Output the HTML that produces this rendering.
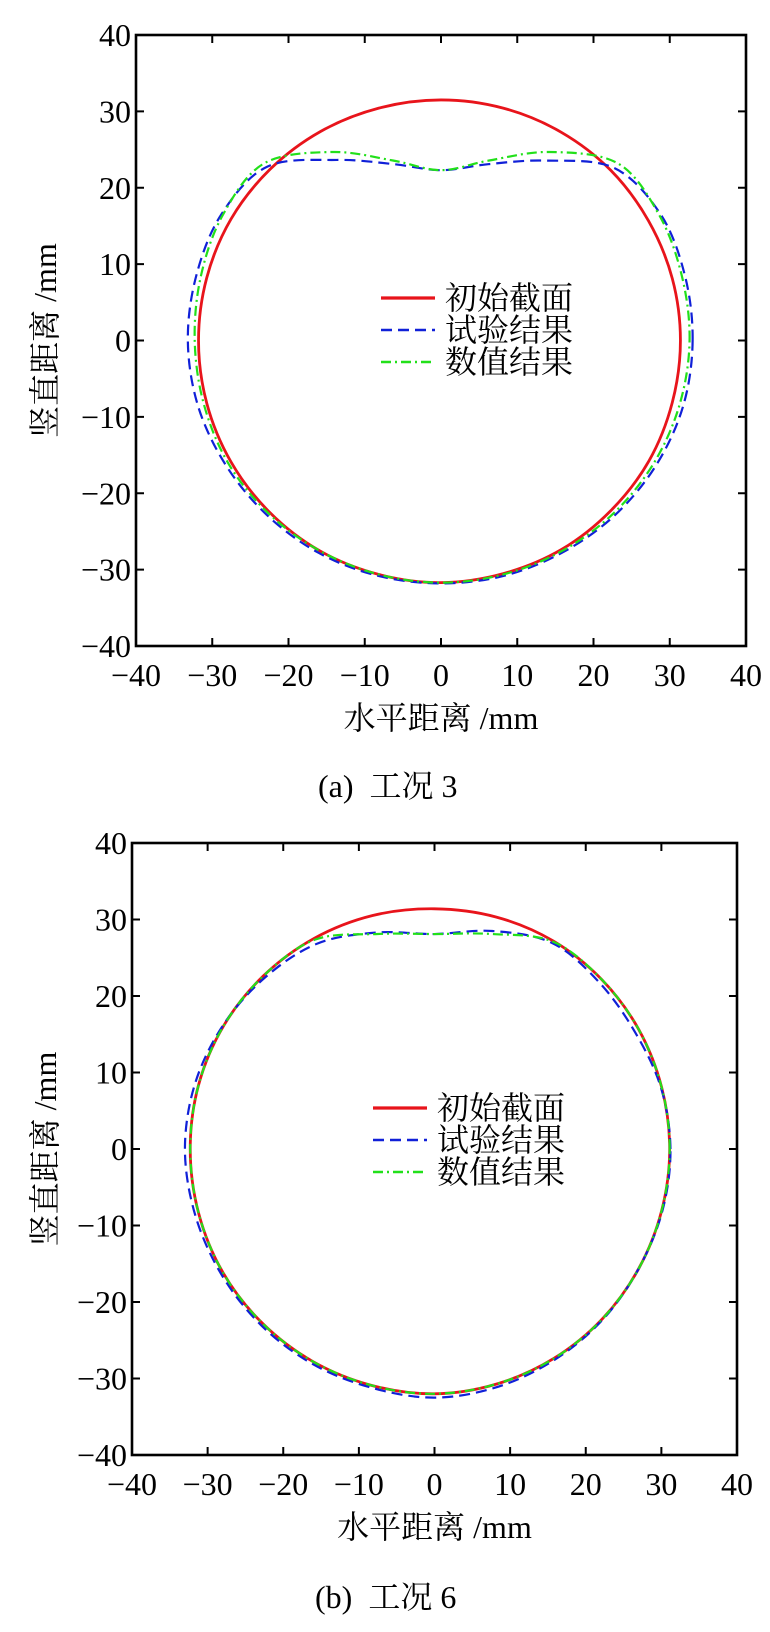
<!DOCTYPE html>
<html><head><meta charset="utf-8"><style>
html,body{margin:0;padding:0;background:#fff;}
svg{display:block;}
text{font-family:"Liberation Serif","Noto Serif CJK SC","Noto Sans CJK SC",serif;fill:#000;white-space:pre;}
</style></head><body>
<svg id="fig" width="770" height="1632" viewBox="0 0 770 1632" xmlns="http://www.w3.org/2000/svg"></svg>
<script>
const tickValues = [-40,-30,-20,-10,0,10,20,30,40];
const tickLabels = ["\u221240","\u221230","\u221220","\u221210","0","10","20","30","40"];
const angles = [0,15,30,45,60,75,90,105,120,135,150,165,180,195,210,225,240,255,270,285,300,315,330,345];
const c1Initial = [31.4,31.4,31.4,31.5,31.5,31.5,31.5,31.5,31.6,31.7,31.8,31.8,31.8,31.8,31.8,31.8,31.8,31.7,31.7,31.6,31.6,31.5,31.5,31.4];
const c1Test = [33.0,33.1,33.2,32.0,27.2,23.9,22.3,23.9,27.3,32.2,33.2,33.2,33.2,33.0,32.6,32.3,32.1,31.9,31.8,31.9,32.0,32.3,32.6,32.9];
const c1Num = [32.6,32.7,33.0,32.8,28.5,24.4,22.3,24.4,28.5,32.8,33.0,32.6,32.3,32.2,32.2,32.0,31.8,31.7,31.7,31.7,31.8,32.0,32.2,32.4];
const c2Initial = [31.1,31.1,31.2,31.3,31.4,31.4,31.4,31.6,31.8,32.0,32.2,32.3,32.3,32.3,32.3,32.2,32.1,32.0,32.0,31.8,31.6,31.4,31.2,31.1];
const c2Test = [31.2,31.0,30.6,30.8,31.1,29.5,28.1,29.3,31.0,31.7,32.3,32.8,33.0,32.8,32.6,32.5,32.4,32.3,32.5,32.2,31.8,31.5,31.2,31.2];
const c2Num = [31.1,31.1,31.2,31.3,31.3,29.1,28.1,29.1,31.6,32.0,32.2,32.3,32.3,32.3,32.3,32.2,32.1,32.0,32.0,31.8,31.6,31.4,31.2,31.1];
const legendNames = ["初始截面","试验结果","数值结果"];

const NS="http://www.w3.org/2000/svg";
const svg=document.getElementById('fig');
function mk(tag,attrs,parent){const e=document.createElementNS(NS,tag);for(const k in attrs)e.setAttribute(k,attrs[k]);(parent||svg).appendChild(e);return e;}

function smoothClosed(pts){
  const n=pts.length;let d="M"+pts[0][0].toFixed(2)+","+pts[0][1].toFixed(2);
  for(let i=0;i<n;i++){
    const p0=pts[(i-1+n)%n],p1=pts[i],p2=pts[(i+1)%n],p3=pts[(i+2)%n];
    const c1=[p1[0]+(p2[0]-p0[0])/6,p1[1]+(p2[1]-p0[1])/6];
    const c2=[p2[0]-(p3[0]-p1[0])/6,p2[1]-(p3[1]-p1[1])/6];
    d+=" C"+c1[0].toFixed(2)+","+c1[1].toFixed(2)+" "+c2[0].toFixed(2)+","+c2[1].toFixed(2)+" "+p2[0].toFixed(2)+","+p2[1].toFixed(2);
  }
  return d+"Z";
}

function drawChart(cfg){
  const g=mk('g',{});
  
  
  const L=cfg.left,R=cfg.right,T=cfg.top,B=cfg.bottom;
  const sx=v=>L+(v+40)/80*(R-L);
  const sy=v=>B-(v+40)/80*(B-T);
  const series=[
    {vals:cfg.initial,color:'#e8141b',dash:'',w:2.8,name:'initial-section-curve'},
    {vals:cfg.test,color:'#1020d8',dash:'11,6',w:2.2,name:'test-result-curve'},
    {vals:cfg.num,color:'#22e01a',dash:'10,4,2,4',w:2.2,name:'numerical-result-curve'}
  ];
  series.forEach(s=>{
    const pts=angles.map((a,i)=>{const r=s.vals[i],t=a*Math.PI/180;return [sx(r*Math.cos(t)),sy(r*Math.sin(t))];});
    const p=mk('path',{d:smoothClosed(pts),fill:'none',stroke:s.color,'stroke-width':s.w,'stroke-dasharray':s.dash},g);
    
    
  });
  const box=mk('rect',{x:L,y:T,width:R-L,height:B-T,fill:'none',stroke:'#000','stroke-width':2.6},g);
  
  
  tickValues.forEach((v,i)=>{
    const x=sx(v),y=sy(v);
    if(i>0&&i<tickValues.length-1){
      mk('line',{x1:x,y1:B,x2:x,y2:B-8,stroke:'#000','stroke-width':2},g);
      mk('line',{x1:x,y1:T,x2:x,y2:T+8,stroke:'#000','stroke-width':2},g);
      mk('line',{x1:L,y1:y,x2:L+8,y2:y,stroke:'#000','stroke-width':2},g);
      mk('line',{x1:R,y1:y,x2:R-8,y2:y,stroke:'#000','stroke-width':2},g);
    }
    const xt=mk('text',{x:x,y:B+40,'font-size':32,'text-anchor':'middle'},g);
    xt.textContent=tickLabels[i];
    
    
    const yt=mk('text',{x:L-5,y:y+11,'font-size':32,'text-anchor':'end'},g);
    yt.textContent=tickLabels[i];
    
    
  });
  const xl=mk('text',{x:(L+R)/2,y:B+83,'font-size':32,'text-anchor':'middle'},g);
  xl.textContent='水平距离 /mm';
  
  
  const cy=(T+B)/2;
  const yl=mk('text',{x:0,y:0,'font-size':32,'text-anchor':'middle',transform:'translate(56,'+cy+') rotate(-90)'},g);
  yl.textContent='竖直距离 /mm';
  
  
  series.forEach((s,i)=>{
    const ly=cfg.legY+i*32;
    const ln=mk('line',{x1:cfg.legX,y1:ly,x2:cfg.legX+54,y2:ly,stroke:s.color,'stroke-width':s.w+0.4,'stroke-dasharray':s.dash},g);
    
    
    const lt=mk('text',{x:cfg.legX+64,y:ly+11,'font-size':32},g);
    lt.textContent=legendNames[i];
    
    
  });
  const cap=mk('text',{x:cfg.capX,y:cfg.capY,'font-size':32},g);
  cap.textContent=cfg.caption;
  
  
}

drawChart({name:'chart-case-3',left:136,right:746,top:35,bottom:646,initial:c1Initial,test:c1Test,num:c1Num,legX:381,legY:298,capX:318,capY:797,caption:'(a)  工况 3'});
drawChart({name:'chart-case-6',left:132,right:737,top:843,bottom:1455,initial:c2Initial,test:c2Test,num:c2Num,legX:373,legY:1108,capX:315,capY:1608,caption:'(b)  工况 6'});
</script>
</body></html>
